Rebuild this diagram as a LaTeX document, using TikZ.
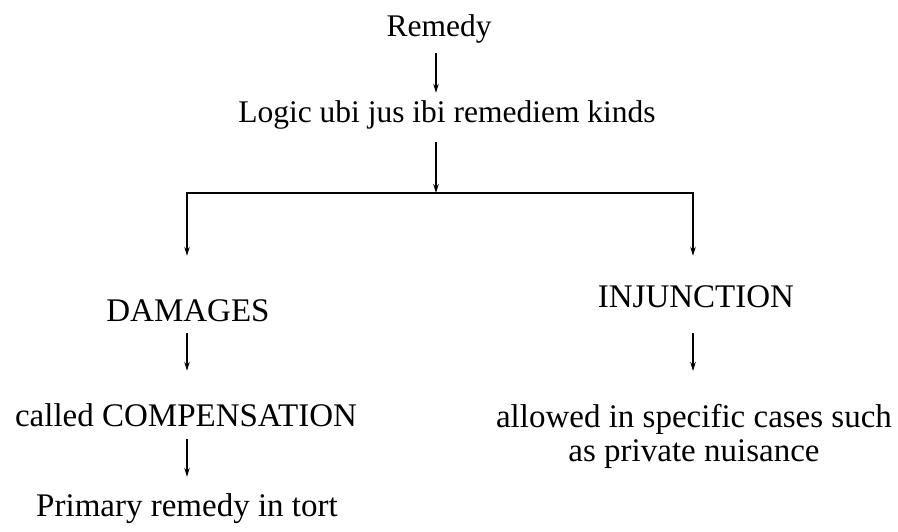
\documentclass[tikz,border=0pt]{standalone}
\usepackage{fontspec}
\setmainfont{Liberation Serif}
\usetikzlibrary{arrows.meta}
\tikzset{
  lbl/.style={font=\fontsize{33}{34}\selectfont, inner sep=0pt, text height=23pt, text depth=7pt, anchor=base},
  small/.style={font=\fontsize{31.5}{34}\selectfont},
  txt/.style={font=\fontsize{33}{34}\selectfont, inner sep=0pt},
  arr/.style={-{Stealth[length=9pt,width=5.5pt]}, line width=1.3pt},
  bar/.style={line width=2.4pt}
}
\begin{document}
\begin{tikzpicture}[x=1pt,y=1pt]
\useasboundingbox (0,0) rectangle (898,532);
\node[lbl, small] (remedy) at (439,495) {Remedy};
\node[lbl, small] (logic) at (447,409) {Logic ubi jus ibi remediem kinds};
\coordinate (split) at (436,339);
\coordinate (lc) at (187,339);
\coordinate (rc) at (693,339);
\node[lbl] (damages) at (188,210) {DAMAGES};
\node[lbl] (injunction) at (696,224) {INJUNCTION};
\node[lbl] (comp) at (186,105) {called COMPENSATION};
\node[lbl] (primary) at (187,15) {Primary remedy in tort};
\node[txt, align=center, anchor=north] (allowed) at (694,128) {allowed in specific cases such\\as private nuisance};
\draw[arr] ([yshift=-9pt]remedy.south -| split) -- ([yshift=7pt]logic.north -| split);
\draw[arr] ([yshift=-12pt]logic.south -| split) -- (split);
\draw[bar] ([xshift=-0.65pt]lc) -- ([xshift=0.65pt]rc);
\draw[arr] ([yshift=1.2pt]lc) -- ([yshift=43pt]damages.north -| lc);
\draw[arr] ([yshift=1.2pt]rc) -- ([yshift=29pt]injunction.north -| rc);
\draw[arr] ([yshift=-4pt]damages.south -| lc) -- ([yshift=33pt]comp.north -| lc);
\draw[arr] ([yshift=-18pt]injunction.south -| rc) -- ([yshift=33pt]allowed.north -| rc);
\draw[arr] ([yshift=-5pt]comp.south -| lc) -- ([yshift=17pt]primary.north -| lc);
\end{tikzpicture}
\end{document}
